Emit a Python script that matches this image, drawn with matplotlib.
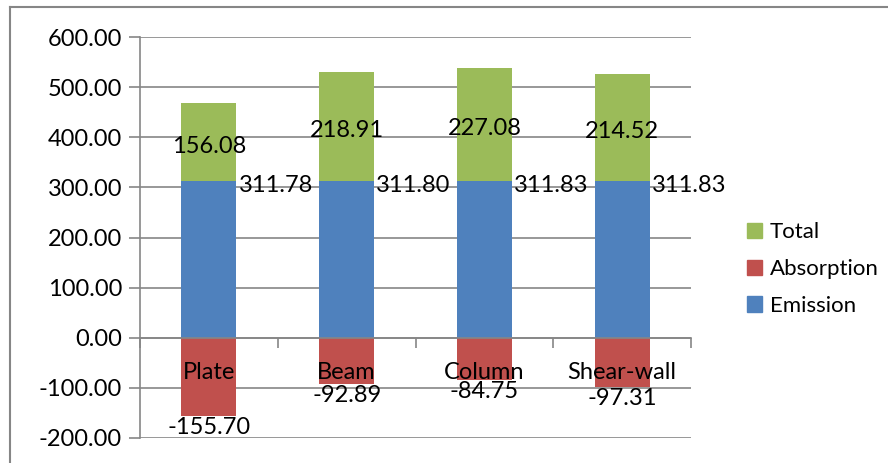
import matplotlib
matplotlib.use("Agg")
import matplotlib.pyplot as plt
from matplotlib.patches import Patch
from matplotlib.lines import Line2D
import numpy as np

categories = ["Plate", "Beam", "Column", "Shear-wall"]
emission = [311.78, 311.80, 311.83, 311.83]
absorption = [-155.70, -92.89, -84.75, -97.31]
total = [156.08, 218.91, 227.08, 214.52]
yticks = [-200, -100, 0, 100, 200, 300, 400, 500, 600]

C_EM = "#4F81BD"
C_AB = "#C0504D"
C_TO = "#9BBB59"
GRID = "#868686"

plt.rcParams['font.family'] = ['Lato', 'DejaVu Sans']
FS = 17

fig = plt.figure(figsize=(8.88, 4.63), dpi=100)
ax = fig.add_axes([140/888, 1-438/463, (691-140)/888, (438-37)/463])

x = np.arange(len(categories))
w = 0.4
ax.bar(x, emission, w, color=C_EM, zorder=3)
ax.bar(x, absorption, w, color=C_AB, zorder=3)
ax.bar(x, total, w, bottom=emission, color=C_TO, zorder=3)

for i in range(len(categories)):
    ax.annotate(f"{emission[i]:.2f}", xy=(x[i] + w/2, emission[i]), xytext=(2, -4),
                textcoords="offset pixels", ha="left", va="center", fontsize=FS, zorder=5)
    ax.annotate(f"{total[i]:.2f}", xy=(x[i], emission[i] + total[i]/2), xytext=(0, -4),
                textcoords="offset pixels", ha="center", va="center", fontsize=FS, zorder=5)
    ax.annotate(f"{absorption[i]:.2f}", xy=(x[i], absorption[i]), xytext=(0, -1),
                textcoords="offset pixels", ha="center", va="top", fontsize=FS, zorder=5)
    ax.annotate(categories[i], xy=(x[i], 0), xytext=(0, -35),
                textcoords="offset pixels", ha="center", va="center", fontsize=FS, zorder=6)

ax.set_xlim(-0.5, len(categories) - 0.5)
ax.set_ylim(-200, 600)
ax.set_yticks(yticks)
ax.set_yticklabels([f"{v:.2f}" for v in yticks], fontsize=FS)
ax.yaxis.grid(True, color=GRID, linewidth=1.2, zorder=0)
ax.set_axisbelow(True)

ax.spines['top'].set_visible(False)
ax.spines['right'].set_visible(False)
ax.spines['left'].set_color(GRID)
ax.spines['left'].set_linewidth(1.2)
ax.spines['bottom'].set_position(('data', 0))
ax.spines['bottom'].set_color(GRID)
ax.spines['bottom'].set_linewidth(1.2)
ax.spines['bottom'].set_zorder(4)

ax.set_xticks(np.arange(len(categories) + 1) - 0.5)
ax.set_xticklabels([])
ax.tick_params(axis='x', length=7, width=1.2, color=GRID, direction='out')
ax.tick_params(axis='y', length=8, width=1.2, color=GRID, pad=5)

handles = [Patch(color=C_TO, label="Total"),
           Patch(color=C_AB, label="Absorption"),
           Patch(color=C_EM, label="Emission")]
fig.legend(handles=handles, loc="center left", bbox_to_anchor=(747/888, 1-269/463),
           frameon=False, fontsize=16, handlelength=0.68, handleheight=0.68,
           handletextpad=0.35, labelspacing=0.75, borderaxespad=0, borderpad=0)

fig.add_artist(Line2D([10/888, 10/888], [0, 1-7/463], transform=fig.transFigure,
                      color=GRID, linewidth=1.5))
fig.add_artist(Line2D([10/888, 1], [1-7/463, 1-7/463], transform=fig.transFigure,
                      color=GRID, linewidth=1.5))

fig.savefig("out.png", dpi=100)
